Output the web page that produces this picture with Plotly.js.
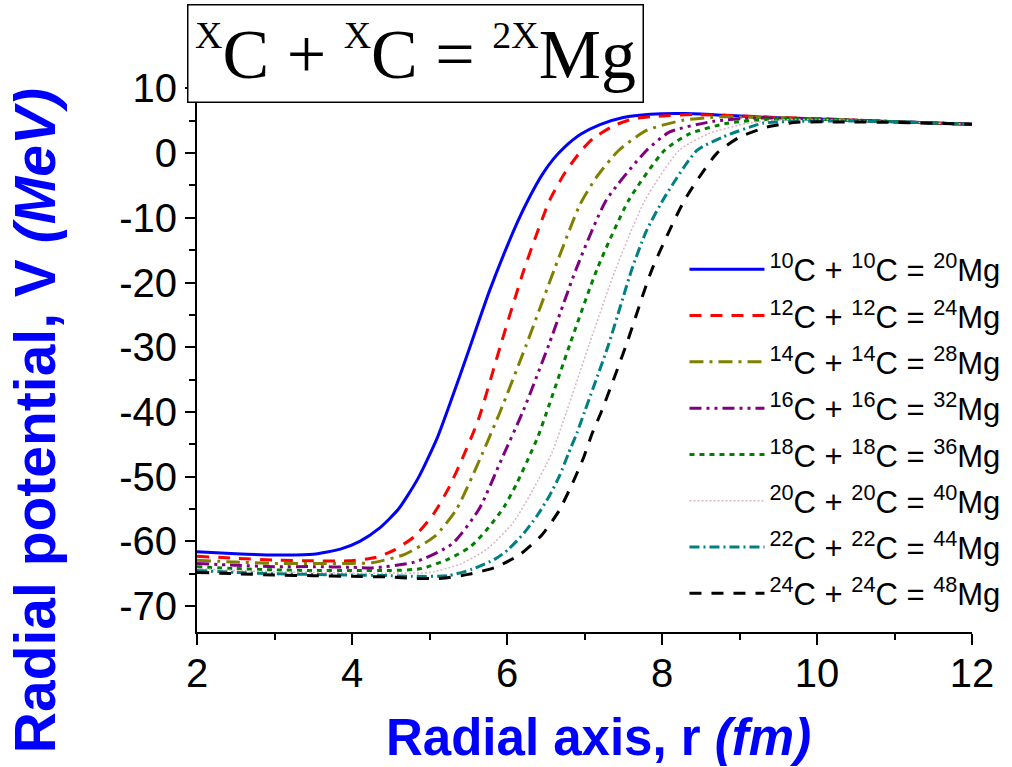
<!DOCTYPE html>
<html>
<head>
<meta charset="utf-8">
<script src="https://cdn.plot.ly/plotly-3.0.1.min.js"></script>
<style>
  html, body { margin: 0; padding: 0; background: #ffffff; }
  #chart { width: 1012px; height: 767px; }
</style>
</head>
<body>
<div id="chart"></div>
<script>
// ---- Data ----
const carbonA = [10, 12, 14, 16, 18, 20, 22, 24];
const magnesiumA = [20, 24, 28, 32, 36, 40, 44, 48];

const x10 = [2.0, 2.5, 3.0, 3.5, 3.85, 4.1, 4.35, 4.6, 4.85, 5.1, 5.3, 5.48, 5.78, 6.13, 6.3, 6.45, 6.6, 6.75, 6.95, 7.2, 7.5, 7.85, 8.3, 8.8, 9.5, 10.0, 10.5, 11.0, 11.5, 12.0];
const y10 = [-61.6, -61.9, -62.1, -62.0, -61.2, -60.0, -58.0, -55.0, -50.3, -44.0, -37.5, -31.4, -21.1, -10.8, -6.6, -3.4, -0.9, 1.0, 2.9, 4.4, 5.5, 6.0, 6.1, 5.85, 5.45, 5.25, 5.05, 4.85, 4.65, 4.45];

const x12 = [2.0, 2.5, 3.0, 3.5, 3.95, 4.3, 4.55, 4.8, 5.05, 5.25, 5.42, 5.63, 5.92, 6.22, 6.55, 6.75, 6.96, 7.11, 7.39, 7.63, 7.95, 8.4, 9.0, 9.5, 10.0, 11.0, 12.0];
const y12 = [-62.3, -62.6, -62.9, -63.0, -63.0, -62.5, -61.3, -59.3, -55.8, -51.7, -47.3, -41.2, -29.6, -18.0, -7.3, -3.0, 0.4, 2.25, 4.3, 5.3, 5.7, 5.95, 5.75, 5.5, 5.3, 4.85, 4.45];

const x14 = [2.0, 2.5, 3.0, 3.5, 4.0, 4.26, 4.68, 5.07, 5.35, 5.65, 5.91, 6.25, 6.61, 6.94, 7.15, 7.44, 7.8, 8.27, 8.75, 9.3, 10.0, 11.0, 12.0];
const y14 = [-62.9, -63.2, -63.4, -63.4, -63.4, -63.3, -62.0, -59.2, -55.0, -47.3, -40.0, -29.6, -18.0, -8.0, -3.8, 0.4, 3.5, 5.07, 5.6, 5.5, 5.3, 4.85, 4.45];

const x16 = [2.0, 2.5, 3.0, 3.5, 4.0, 4.26, 4.81, 5.29, 5.64, 5.93, 6.21, 6.54, 6.89, 7.28, 7.8, 8.1, 8.66, 9.17, 10.0, 11.0, 12.0];
const y16 = [-63.4, -63.7, -63.9, -63.9, -64.0, -64.1, -63.2, -60.4, -55.0, -47.3, -39.8, -29.6, -18.0, -7.3, 0.4, 3.27, 4.9, 5.4, 5.3, 4.85, 4.45];

const x18 = [2.0, 2.5, 3.0, 3.5, 4.0, 4.5, 4.9, 5.25, 5.53, 5.76, 5.96, 6.12, 6.26, 6.4, 6.51, 6.81, 7.16, 7.57, 8.03, 8.36, 8.84, 9.35, 10.0, 11.0, 12.0];
const y18 = [-63.9, -64.2, -64.4, -64.5, -64.5, -64.5, -64.2, -62.7, -60.8, -57.9, -54.7, -51.2, -47.6, -43.8, -40.1, -29.6, -18.0, -7.3, 0.4, 3.0, 4.6, 5.2, 5.25, 4.85, 4.45];

const x20 = [2.0, 2.5, 3.0, 3.5, 4.0, 4.5, 5.0, 5.4, 5.74, 6.08, 6.34, 6.58, 6.77, 7.06, 7.4, 7.78, 8.22, 8.6, 9.1, 9.6, 10.0, 11.0, 12.0];
const y20 = [-64.2, -64.5, -64.7, -64.8, -64.9, -64.9, -64.8, -63.5, -61.2, -57.1, -51.9, -46.3, -39.9, -29.6, -18.0, -7.3, 0.4, 3.0, 4.6, 5.15, 5.2, 4.85, 4.45];

const x22 = [2.0, 2.5, 3.0, 3.5, 4.0, 4.5, 4.77, 5.24, 5.55, 5.85, 6.02, 6.22, 6.39, 6.55, 6.68, 6.79, 6.9, 7.0, 7.31, 7.61, 7.8, 8.05, 8.45, 8.79, 9.3, 9.95, 10.5, 11.0, 12.0];
const y22 = [-64.5, -64.8, -65.0, -65.1, -65.2, -65.3, -65.4, -65.3, -64.3, -62.7, -61.2, -58.7, -56.0, -52.9, -49.8, -46.5, -43.3, -40.0, -29.6, -18.0, -12.0, -6.5, 0.4, 2.5, 4.6, 4.95, 4.95, 4.85, 4.45];

const x24 = [2.0, 2.5, 3.0, 3.5, 4.0, 4.5, 4.77, 5.16, 5.5, 5.85, 6.17, 6.45, 6.67, 6.83, 6.98, 7.1, 7.22, 7.54, 7.87, 8.29, 8.71, 9.0, 9.35, 9.74, 10.4, 11.0, 12.0];
const y24 = [-64.8, -65.0, -65.2, -65.3, -65.4, -65.5, -65.7, -65.7, -65.1, -64.0, -62.0, -59.0, -55.3, -51.4, -47.3, -43.3, -39.9, -29.6, -18.0, -7.3, 0.0, 2.45, 4.0, 4.76, 4.8, 4.75, 4.45];

const yTickVals = [-70, -60, -50, -40, -30, -20, -10, 0, 10];
const yTickText = ["-70", "-60", "-50", "-40", "-30", "-20", "-10", "0", "10"];
const xTickVals = [2, 4, 6, 8, 10, 12];
const xTickText = ["2", "4", "6", "8", "10", "12"];

const titleText = "<sup><span style=\"font-size:38px\">X</span></sup>C + <sup><span style=\"font-size:38px\">X</span></sup>C = <sup><span style=\"font-size:38px\">2X</span></sup>Mg";
const xTitleText = "<b>Radial axis, r <i>(fm)</i></b>";
const yTitleText = "<b>Radial potential, V <i>(MeV)</i></b>";

// ---- Styles ----
const xs = [x10, x12, x14, x16, x18, x20, x22, x24];
const ys = [y10, y12, y14, y16, y18, y20, y22, y24];
const colors = ["#0000FF", "#FF0000", "#808000", "#800080", "#008000", "#DDB4C2", "#008080", "#000000"];
const dashes = ["solid", "12px,9px", "14px,6px,3px,6px", "12px,5px,3px,5px,3px,5px", "5px,5px", "2px,2px", "10px,4px,2px,4px", "12px,10px"];
const widths = [3, 3, 3, 3, 3, 1.5, 3, 3];

const traces = xs.map((xv, i) => ({
  type: "scatter",
  mode: "lines",
  x: xv,
  y: ys[i],
  name: "<sup>" + carbonA[i] + "</sup>C + <sup>" + carbonA[i] + "</sup>C = <sup>" + magnesiumA[i] + "</sup>Mg",
  legendgroup: "g" + i,
  line: { color: colors[i], width: widths[i], dash: dashes[i], shape: "spline", smoothing: 0.6 },
  hoverinfo: "skip"
}));

const fam = "Liberation Sans, Arial, sans-serif";

const layout = {
  width: 1012,
  height: 767,
  paper_bgcolor: "#ffffff",
  plot_bgcolor: "#ffffff",
  margin: { l: 197, r: 40, t: 55.5, b: 135, autoexpand: false },
  font: { family: fam, color: "#000000" },
  showlegend: true,
  legend: {
    x: 0.629, y: 0.676, xanchor: "left", yanchor: "top",
    bgcolor: "rgba(0,0,0,0)",
    font: { size: 31, family: fam, color: "#000000" },
    traceorder: "grouped",
    tracegroupgap: 3,
    itemwidth: 75
  },
  xaxis: {
    range: [2, 12],
    showgrid: false, zeroline: false,
    showline: true, linecolor: "#000000", linewidth: 2,
    ticks: "outside", ticklen: 11, tickwidth: 2, tickcolor: "#000000",
    tickvals: xTickVals, ticktext: xTickText,
    ticklabelstandoff: -6,
    tickfont: { size: 40, family: fam, color: "#000000" },
    minor: { dtick: 1, ticks: "outside", ticklen: 6, tickwidth: 2, tickcolor: "#000000", showgrid: false },
    automargin: false
  },
  yaxis: {
    range: [-74, 15],
    showgrid: false, zeroline: false,
    showline: true, linecolor: "#000000", linewidth: 2,
    ticks: "outside", ticklen: 10, tickwidth: 2, tickcolor: "#000000",
    tickvals: yTickVals, ticktext: yTickText,
    tickfont: { size: 40, family: fam, color: "#000000" },
    minor: { dtick: 5, ticks: "outside", ticklen: 6, tickwidth: 2, tickcolor: "#000000", showgrid: false },
    automargin: false
  },
  annotations: [
    {
      xref: "paper", yref: "paper",
      x: 0.282, y: 1.0035, xanchor: "center", yanchor: "middle",
      text: titleText,
      showarrow: false,
      font: { size: 70, family: "Liberation Serif, Times New Roman, serif", color: "#000000" },
      bgcolor: "#ffffff", bordercolor: "#000000", borderwidth: 1.5, borderpad: 1,
      width: 452, height: 94, align: "center", valign: "middle"
    },
    {
      xref: "paper", yref: "paper",
      x: 0.5187, y: -0.13, xanchor: "center", yanchor: "top",
      text: xTitleText, showarrow: false,
      font: { size: 51, color: "#0000FF", family: fam }
    },
    {
      xref: "paper", yref: "paper",
      x: -0.209, y: 0.366, xanchor: "center", yanchor: "middle",
      text: yTitleText, showarrow: false, textangle: -90,
      font: { size: 57, color: "#0000FF", family: fam }
    }
  ]
};

Plotly.newPlot("chart", traces, layout, { displayModeBar: false, staticPlot: true });
</script>
</body>
</html>
